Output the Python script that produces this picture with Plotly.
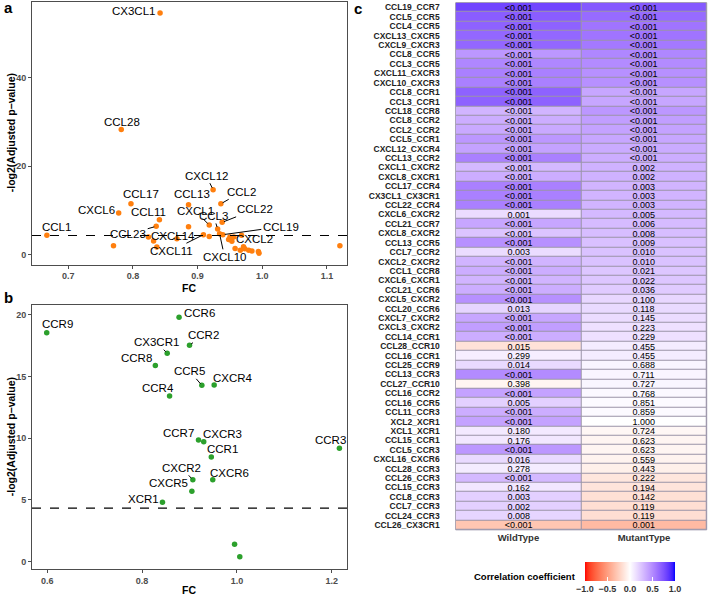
import numpy as np
import plotly.graph_objects as go

# ---------------- Panel a: chemokines ----------------
a_gene = ["CX3CL1", "CCL28", "CXCL12", "CCL2", "CCL13", "CCL17", "CXCL6", "CCL11",
          "CXCL1", "CCL22", "CCL3", "CCL19", "CCL1", "CCL23", "CXCL14", "CXCL11",
          "CXCL10", "CXCL2",
          "", "", "", "", "", "", "", "", "", "", "", "", "", "", "", "", "", "", ""]
a_fc = [0.842, 0.782, 0.924, 0.936, 0.886, 0.797, 0.778, 0.841,
        0.918, 0.938, 0.931, 0.939, 0.667, 0.836, 0.886, 0.909,
        0.934, 0.968,
        0.770, 0.824, 0.832, 0.837, 0.868, 0.918, 0.948, 0.950, 0.953, 0.956,
        0.958, 0.966, 0.971, 0.973, 0.979, 0.984, 0.994, 0.995, 1.120]
a_y = [54.7, 28.3, 14.7, 11.5, 11.3, 11.5, 9.4, 7.9,
       6.7, 7.3, 5.8, 4.5, 4.4, 6.4, 6.3, 4.5,
       4.7, 4.4,
       2.0, 4.0, 3.1, 1.7, 3.6, 4.1, 3.4, 4.0, 3.0, 4.0,
       1.4, 1.0, 1.8, 1.3, 1.0, 0.8, 0.7, 0.3, 2.0]

# ---------------- Panel b: receptors ----------------
b_gene = ["CCR9", "CCR6", "CCR2", "CX3CR1", "CCR8", "CCR5", "CXCR4", "CCR4",
          "CCR7", "CXCR3", "CCR1", "CCR3", "CXCR2", "CXCR6", "CXCR5", "XCR1", "", ""]
b_fc = [0.599, 0.878, 0.900, 0.853, 0.828, 0.926, 0.952, 0.858,
        0.919, 0.930, 0.946, 1.216, 0.907, 0.949, 0.905, 0.843, 0.995, 1.006]
b_y = [18.56, 19.82, 17.55, 16.9, 15.9, 14.29, 14.31, 13.42,
       9.86, 9.72, 8.48, 9.18, 6.62, 6.62, 5.70, 4.81, 1.40, 0.37]

p_cutoff = 0.05

# ---------------- Panel c: heatmap ----------------
pairs = ["CCL19_CCR7", "CCL5_CCR5", "CCL4_CCR5", "CXCL13_CXCR5", "CXCL9_CXCR3",
         "CCL8_CCR5", "CCL3_CCR5", "CXCL11_CXCR3", "CXCL10_CXCR3", "CCL8_CCR1",
         "CCL3_CCR1", "CCL18_CCR8", "CCL8_CCR2", "CCL2_CCR2", "CCL5_CCR1",
         "CXCL12_CXCR4", "CCL13_CCR2", "CXCL1_CXCR2", "CXCL8_CXCR1", "CCL17_CCR4",
         "CX3CL1_CX3CR1", "CCL22_CCR4", "CXCL6_CXCR2", "CCL21_CCR7", "CXCL8_CXCR2",
         "CCL13_CCR5", "CCL7_CCR2", "CXCL2_CXCR2", "CCL1_CCR8", "CXCL6_CXCR1",
         "CCL21_CCR6", "CXCL5_CXCR2", "CCL20_CCR6", "CXCL7_CXCR2", "CXCL3_CXCR2",
         "CCL14_CCR1", "CCL28_CCR10", "CCL16_CCR1", "CCL25_CCR9", "CCL13_CCR3",
         "CCL27_CCR10", "CCL16_CCR2", "CCL16_CCR5", "CCL11_CCR3", "XCL2_XCR1",
         "XCL1_XCR1", "CCL15_CCR1", "CCL5_CCR3", "CXCL16_CXCR6", "CCL28_CCR3",
         "CCL26_CCR3", "CCL15_CCR3", "CCL8_CCR3", "CCL7_CCR3", "CCL24_CCR3",
         "CCL26_CX3CR1"]
groups = ["WildType", "MutantType"]
wild_r = [0.80, 0.70, 0.68, 0.66, 0.66, 0.45, 0.52, 0.55, 0.55, 0.68,
          0.68, 0.32, 0.35, 0.37, 0.45, 0.40, 0.55, 0.30, 0.35, 0.55,
          0.55, 0.55, 0.15, 0.38, 0.25, 0.48, 0.15, 0.32, 0.35, 0.32,
          0.35, 0.48, 0.18, 0.38, 0.42, 0.35, -0.15, 0.07, 0.16, 0.50,
          -0.05, 0.40, 0.20, 0.35, 0.40, 0.09, 0.10, 0.45, 0.16, 0.08,
          0.30, 0.10, 0.20, 0.20, 0.18, -0.30]
mut_r = [0.72, 0.64, 0.60, 0.60, 0.58, 0.52, 0.50, 0.48, 0.48, 0.38,
         0.38, 0.45, 0.42, 0.40, 0.38, 0.36, 0.35, 0.33, 0.33, 0.32,
         0.32, 0.32, 0.30, 0.29, 0.28, 0.27, 0.26, 0.26, 0.24, 0.24,
         0.22, 0.17, 0.16, 0.15, 0.13, 0.13, 0.08, 0.08, 0.04, 0.04,
         0.04, 0.03, 0.02, 0.02, 0.00, -0.04, -0.05, -0.05, -0.06, -0.08,
         -0.13, -0.14, -0.16, -0.17, -0.17, -0.36]
wild_p = ["<0.001"] * 22 + ["0.001", "<0.001", "<0.001", "<0.001", "0.003", "<0.001",
          "<0.001", "<0.001", "<0.001", "<0.001", "0.013", "<0.001", "<0.001", "<0.001",
          "0.015", "0.299", "0.014", "<0.001", "0.398", "<0.001", "0.005", "<0.001",
          "<0.001", "0.180", "0.176", "<0.001", "0.016", "0.278", "<0.001", "0.162",
          "0.003", "0.002", "0.008", "<0.001"]
mut_p = ["<0.001"] * 17 + ["0.002", "0.002", "0.003", "0.003", "0.003", "0.005", "0.006",
         "0.008", "0.009", "0.010", "0.010", "0.021", "0.022", "0.036", "0.100", "0.118",
         "0.145", "0.223", "0.229", "0.455", "0.455", "0.688", "0.711", "0.727", "0.768",
         "0.851", "0.859", "1.000", "0.724", "0.623", "0.623", "0.559", "0.443", "0.222",
         "0.194", "0.142", "0.119", "0.119", "0.001"]

# ---------------- styling ----------------
FONT = "Liberation Sans"
ORANGE = "#FF7F0E"
GREEN = "#2CA02C"
AXCOL = "#4d4d4d"
W, H = 709, 598

# label offsets (pixels: text centre relative to point) and whether a segment is drawn
a_lab = {"CX3CL1": (-27, -2, 0), "CCL28": (1, -8, 0), "CXCL12": (-7, -14, 1),
         "CCL2": (21, -12, 1), "CCL13": (3, -11, 0), "CCL17": (10, -10, 0),
         "CXCL6": (-22, -3, 0), "CCL11": (-11, -8, 0), "CXCL1": (-14, -14, 1),
         "CCL3": (-4, -13, 1), "CCL22": (33, -13, 1), "CCL19": (58, -8, 1),
         "CCL1": (10, -8, 0), "CCL23": (-28, 8, 1), "CXCL14": (-16, 9, 0),
         "CXCL11": (-32, 16, 1), "CXCL10": (5, 23, 1), "CXCL2": (13, 4, 0)}
b_lab = {"CCR9": (11, -9, 0), "CCR6": (20, -4, 0), "CCR2": (14, -10, 1),
         "CX3CR1": (-11, -11, 1), "CCR8": (-19, -7, 0), "CCR5": (-12, -14, 1),
         "CXCR4": (19, -7, 0), "CCR4": (-12, -8, 0), "CCR7": (-20, -7, 0),
         "CXCR3": (19, -8, 0), "CCR1": (11, -8, 0), "CCR3": (-9, -8, 0),
         "CXCR2": (-11, -12, 1), "CXCR6": (17, -7, 0), "CXCR5": (-23, -8, 0),
         "XCR1": (-19, -3, 0)}


def px(v, total):
    return v / total


# ---------- Lab-space diverging palette (like scale_fill_gradient2) ----------
def srgb_to_lab(rgb):
    c = np.array(rgb, dtype=float) / 255.0
    c = np.where(c <= 0.04045, c / 12.92, ((c + 0.055) / 1.055) ** 2.4)
    M = np.array([[0.4124, 0.3576, 0.1805], [0.2126, 0.7152, 0.0722], [0.0193, 0.1192, 0.9505]])
    xyz = M @ c
    xyz = xyz / np.array([0.95047, 1.0, 1.08883])
    f = np.where(xyz > 0.008856, np.cbrt(xyz), 7.787 * xyz + 16 / 116)
    return np.array([116 * f[1] - 16, 500 * (f[0] - f[1]), 200 * (f[1] - f[2])])


def lab_to_srgb(lab):
    L, a, b = lab
    fy = (L + 16) / 116
    fx = fy + a / 500
    fz = fy - b / 200
    f = np.array([fx, fy, fz])
    xyz = np.where(f ** 3 > 0.008856, f ** 3, (f - 16 / 116) / 7.787)
    xyz = xyz * np.array([0.95047, 1.0, 1.08883])
    Minv = np.array([[3.2406, -1.5372, -0.4986], [-0.9689, 1.8758, 0.0415], [0.0557, -0.2040, 1.0570]])
    c = Minv @ xyz
    c = np.clip(c, 0, 1)
    c = np.where(c <= 0.0031308, 12.92 * c, 1.055 * c ** (1 / 2.4) - 0.055)
    c = np.clip(np.round(c * 255), 0, 255).astype(int)
    return "rgb(%d,%d,%d)" % tuple(c)


lab_red, lab_white, lab_blue = srgb_to_lab((255, 0, 0)), srgb_to_lab((255, 255, 255)), srgb_to_lab((0, 0, 255))
colorscale = []
for t in np.linspace(-1, 1, 41):
    end = lab_red if t < 0 else lab_blue
    colorscale.append([(t + 1) / 2, lab_to_srgb(lab_white + abs(t) * (end - lab_white))])

fig = go.Figure()

# ---- panel a
fig.add_trace(go.Scatter(x=a_fc, y=a_y, mode="markers", xaxis="x", yaxis="y",
                         marker=dict(color=ORANGE, size=5.5), hoverinfo="skip"))
# ---- panel b
fig.add_trace(go.Scatter(x=b_fc, y=b_y, mode="markers", xaxis="x2", yaxis="y2",
                         marker=dict(color=GREEN, size=5.5), hoverinfo="skip"))

# ---- heatmap
z = np.array([wild_r, mut_r]).T
txt = np.array([wild_p, mut_p]).T
fig.add_trace(go.Heatmap(z=z, x=groups, y=pairs, text=txt, texttemplate="%{text}",
                         textfont=dict(family=FONT, size=9, color="black"),
                         xaxis="x3", yaxis="y3", zmin=-1, zmax=1, colorscale=colorscale,
                         xgap=1, ygap=1, hoverinfo="skip",
                         colorbar=dict(orientation="h", x=px(630, W), xanchor="center",
                                       y=1 - px(562, H), yanchor="top",
                                       len=px(90, W), lenmode="fraction", thickness=19,
                                       outlinewidth=0, ticks="inside", tickcolor="white",
                                       ticklen=4, tickvals=[-1, -0.5, 0, 0.5, 1],
                                       ticktext=["\u22121.0", "\u22120.5", "0.0", "0.5", "1.0"],
                                       tickangle=0, xpad=0, ypad=0,
                                       tickfont=dict(family=FONT, size=9, color="#333", weight="bold"))))

thr = -np.log2(p_cutoff)
for xr, yr in (("x", "y"), ("x2", "y2")):
    fig.add_shape(type="line", xref=xr + " domain", yref=yr, x0=0, x1=1, y0=thr, y1=thr,
                  line=dict(color="black", width=1.2, dash="dash"))
fig.add_shape(type="rect", xref="x3 domain", yref="y3 domain", x0=0, x1=1, y0=0, y1=1,
              layer="below", fillcolor="#9a94a8", line=dict(width=1, color="#9a94a8"))

annots = []
for genes, fcs, ys, labs, xr, yr in ((a_gene, a_fc, a_y, a_lab, "x", "y"),
                                     (b_gene, b_fc, b_y, b_lab, "x2", "y2")):
    for g, xv, yv in zip(genes, fcs, ys):
        if not g:
            continue
        dx, dy, seg = labs[g]
        annots.append(dict(x=xv, y=yv, xref=xr, yref=yr, text=g, showarrow=True,
                           ax=dx, ay=dy, arrowhead=0, arrowwidth=1, standoff=2,
                           arrowcolor="black" if seg else "rgba(0,0,0,0)",
                           font=dict(family=FONT, size=11.5, color="black")))

ytitle = "-log2(Adjusted p\u2212value)"
for yc in ((2 + 265) / 2, (306 + 570) / 2):
    annots.append(dict(x=px(11, W), y=1 - px(yc, H), xref="paper", yref="paper", text=ytitle,
                       textangle=-90, showarrow=False, xanchor="center", yanchor="middle",
                       borderpad=0,
                       font=dict(family=FONT, size=10.5, color="black", weight="bold")))
for yc in (288, 591):
    annots.append(dict(x=px(189.5, W), y=1 - px(yc, H), xref="paper", yref="paper", text="FC",
                       showarrow=False, xanchor="center", yanchor="middle",
                       font=dict(family=FONT, size=10.5, color="black", weight="bold")))
for letter, (lx, ly) in (("a", (8, 8)), ("b", (8, 298)), ("c", (358, 9))):
    annots.append(dict(x=px(lx, W), y=1 - px(ly, H), xref="paper", yref="paper", text=letter,
                       showarrow=False, xanchor="center", yanchor="middle",
                       font=dict(family=FONT, size=15, color="black", weight="bold")))
annots.append(dict(x=px(578, W), y=1 - px(577, H), xref="paper", yref="paper",
                   text="Correlation coefficient", showarrow=False, xanchor="right", yanchor="middle",
                   font=dict(family=FONT, size=9.5, color="black", weight="bold")))

axis_common = dict(showline=True, linecolor=AXCOL, linewidth=1, mirror=True, ticks="outside",
                   ticklen=3, tickcolor=AXCOL, showgrid=False, zeroline=False,
                   tickfont=dict(family=FONT, size=9, color=AXCOL, weight="bold"),
                   automargin=False)
xa_dom = [px(32, W), px(347, W)]

fig.update_layout(
    width=W, height=H, margin=dict(l=0, r=0, t=0, b=0),
    paper_bgcolor="white", plot_bgcolor="white", showlegend=False,
    font=dict(family=FONT),
    xaxis=dict(domain=xa_dom, range=[0.644, 1.131], tickvals=[0.7, 0.8, 0.9, 1.0, 1.1],
               tickformat=".1f", anchor="y", **axis_common),
    yaxis=dict(domain=[1 - px(265, H), 1 - px(2, H)], range=[-2.26, 57.2],
               tickvals=[0, 20, 40], anchor="x", **axis_common),
    xaxis2=dict(domain=xa_dom, range=[0.568, 1.232], tickvals=[0.6, 0.8, 1.0, 1.2],
                tickformat=".1f", anchor="y2", **axis_common),
    yaxis2=dict(domain=[1 - px(570, H), 1 - px(306, H)], range=[-0.62, 20.77],
                tickvals=[0, 5, 10, 15, 20], anchor="x2", **axis_common),
    xaxis3=dict(domain=[px(455.7, W), px(706.7, W)], anchor="y3", side="bottom",
                showgrid=False, zeroline=False, showline=False, ticks="",
                ticklabelstandoff=1, automargin=False,
                tickfont=dict(family=FONT, size=9.5, color="#333", weight="bold")),
    yaxis3=dict(domain=[1 - px(530.7, H), 1 - px(2.7, H)], anchor="x3", autorange="reversed",
                showgrid=False, zeroline=False, showline=False, ticks="",
                tickmode="array", tickvals=pairs, ticktext=pairs,
                ticklabelstandoff=15, automargin=False,
                tickfont=dict(family=FONT, size=8.5, color="#222", weight="bold")),
    annotations=annots,
)

fig.write_html("out.html", config={"displayModeBar": False},
               post_script="document.body.style.margin='0px';")
